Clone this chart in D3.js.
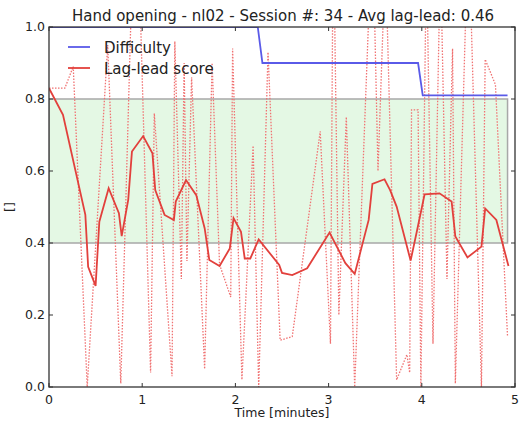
<!DOCTYPE html>
<html>
<head>
<meta charset="utf-8">
<script src="https://cdn.jsdelivr.net/npm/d3@7"></script>
<style>
  body { margin: 0; background: #fff; }
  text { font-family: "DejaVu Sans", sans-serif; fill: #222; }
</style>
</head>
<body>
<svg width="528" height="425"></svg>
<script>
const title = "Hand opening - nl02 - Session #: 34 - Avg lag-lead: 0.46"
const xTicks = [0, 1, 2, 3, 4, 5]
const yTicks = [0.0, 0.2, 0.4, 0.6, 0.8, 1.0]

// raw lag-lead values (dotted)
const rawTime = [0.00, 0.17, 0.26, 0.41, 0.63, 0.77, 0.93, 1.09, 1.13, 1.32, 1.35, 1.42, 1.45, 1.48, 1.53,
  1.67, 1.75, 1.83, 1.95, 1.97, 2.07, 2.19, 2.25, 2.35, 2.48, 2.61, 2.91, 3.02, 3.05, 3.11, 3.19, 3.28,
  3.47, 3.53, 3.61, 3.73, 3.84, 3.87, 3.89, 3.96, 3.99, 4.05, 4.12, 4.20, 4.27, 4.33, 4.36, 4.50, 4.64,
  4.68, 4.79, 4.92]
const rawScore = [0.83, 0.83, 0.89, 0.00, 0.95, 0.01, 1.50, 0.04, 0.76, 0.03, 0.96, 0.30, 0.90, 0.35, 0.86,
  0.05, 0.90, 0.34, 0.25, 0.94, 0.02, 0.67, 0.00, 0.93, 0.13, 0.14, 0.71, 0.12, 1.30, 0.20, 0.75, 0.00,
  1.30, 0.60, 1.20, 0.02, 0.09, 0.04, 0.77, 0.77, 0.00, 1.20, 0.12, 1.20, 0.30, 0.94, 0.01, 1.30, 0.00,
  0.91, 0.84, 0.14]

// smoothed lag-lead score (solid)
const scoreTime = [0.00, 0.15, 0.39, 0.42, 0.50, 0.54, 0.64, 0.75, 0.78, 0.85, 0.89, 1.01, 1.11, 1.14, 1.24,
  1.34, 1.36, 1.47, 1.58, 1.67, 1.72, 1.83, 1.94, 1.98, 2.06, 2.10, 2.16, 2.25, 2.47, 2.50, 2.61, 2.77,
  3.01, 3.18, 3.28, 3.43, 3.47, 3.60, 3.66, 3.73, 3.88, 3.95, 4.03, 4.19, 4.32, 4.36, 4.49, 4.64, 4.68,
  4.80, 4.93]
const score = [0.83, 0.756, 0.478, 0.334, 0.281, 0.459, 0.552, 0.483, 0.419, 0.52, 0.654, 0.697, 0.649, 0.547, 0.478,
  0.464, 0.515, 0.575, 0.533, 0.441, 0.353, 0.336, 0.385, 0.469, 0.431, 0.357, 0.357, 0.41, 0.339, 0.317, 0.311, 0.33,
  0.429, 0.344, 0.314, 0.464, 0.564, 0.577, 0.547, 0.501, 0.351, 0.436, 0.535, 0.538, 0.515, 0.418, 0.36, 0.39, 0.496,
  0.464, 0.336]

const diffTime = [0.00, 2.24, 2.29, 3.96, 4.01, 4.92]
const difficulty = [1.0, 1.0, 0.9, 0.9, 0.81, 0.81]

const bandLow = 0.4, bandHigh = 0.8, bandEnd = 4.92

const svg = d3.select("svg"),
    margin = {top: 27, right: 13, bottom: 38, left: 49},
    width = +svg.attr("width") - margin.left - margin.right,
    height = +svg.attr("height") - margin.top - margin.bottom

const x = d3.scaleLinear().domain([0, 5]).range([0, width])
const y = d3.scaleLinear().domain([0, 1]).range([height, 0])

const g = svg.append("g").attr("transform", `translate(${margin.left},${margin.top})`)

svg.append("defs").append("clipPath").attr("id", "plot")
  .append("rect").attr("width", width).attr("height", height)

const plot = g.append("g").attr("clip-path", "url(#plot)")

// target band
plot.append("rect")
  .attr("x", x(0)).attr("y", y(bandHigh))
  .attr("width", x(bandEnd) - x(0)).attr("height", y(bandLow) - y(bandHigh))
  .attr("fill", "#e4f8e4").attr("stroke", "#a8a8a8").attr("stroke-width", 1.5)

const line = d3.line().x(d => x(d[0])).y(d => y(d[1]))

plot.append("path")
  .attr("d", line(d3.zip(rawTime, rawScore)))
  .attr("fill", "none").attr("stroke", "#f07272")
  .attr("stroke-width", 1.3).attr("stroke-dasharray", "1.5,1.5")

plot.append("path")
  .attr("d", line(d3.zip(scoreTime, score)))
  .attr("fill", "none").attr("stroke", "#e2403c").attr("stroke-width", 1.8)

plot.append("path")
  .attr("d", line(d3.zip(diffTime, difficulty)))
  .attr("fill", "none").attr("stroke", "#5a5ae8").attr("stroke-width", 1.8)

// frame + inward ticks on all sides
g.append("rect").attr("width", width).attr("height", height)
  .attr("fill", "none").attr("stroke", "#333").attr("stroke-width", 1.3)

const tickLen = 4
xTicks.forEach(t => {
  g.append("line").attr("x1", x(t)).attr("x2", x(t)).attr("y1", height).attr("y2", height - tickLen).attr("stroke", "#333")
  g.append("line").attr("x1", x(t)).attr("x2", x(t)).attr("y1", 0).attr("y2", tickLen).attr("stroke", "#333")
  g.append("text").attr("x", x(t)).attr("y", height + 17)
    .attr("text-anchor", "middle").attr("font-size", 12.5).text(d3.format("d")(t))
})
yTicks.forEach(t => {
  g.append("line").attr("x1", 0).attr("x2", tickLen).attr("y1", y(t)).attr("y2", y(t)).attr("stroke", "#333")
  g.append("line").attr("x1", width).attr("x2", width - tickLen).attr("y1", y(t)).attr("y2", y(t)).attr("stroke", "#333")
  g.append("text").attr("x", -4).attr("y", y(t)).attr("dy", "0.35em")
    .attr("text-anchor", "end").attr("font-size", 12.5).text(d3.format(".1f")(t))
})

svg.append("text").attr("x", margin.left + width / 2 + 1).attr("y", 21)
  .attr("text-anchor", "middle").attr("font-size", 15).text(title)

svg.append("text").attr("x", margin.left + width / 2).attr("y", 417)
  .attr("text-anchor", "middle").attr("font-size", 12.5).text("Time [minutes]")

svg.append("text").attr("transform", `translate(14,${margin.top + height / 2}) rotate(-90)`)
  .attr("text-anchor", "middle").attr("font-size", 12.5).text("[]")

// legend
const legend = [["Difficulty", "#5a5ae8"], ["Lag-lead score", "#e2403c"]]
legend.forEach(([name, col], i) => {
  const ly = 47 + i * 21
  svg.append("line").attr("x1", 68).attr("x2", 90).attr("y1", ly).attr("y2", ly)
    .attr("stroke", col).attr("stroke-width", 1.8)
  svg.append("text").attr("x", 104).attr("y", ly + 5.5).attr("font-size", 15).text(name)
})
</script>
</body>
</html>
